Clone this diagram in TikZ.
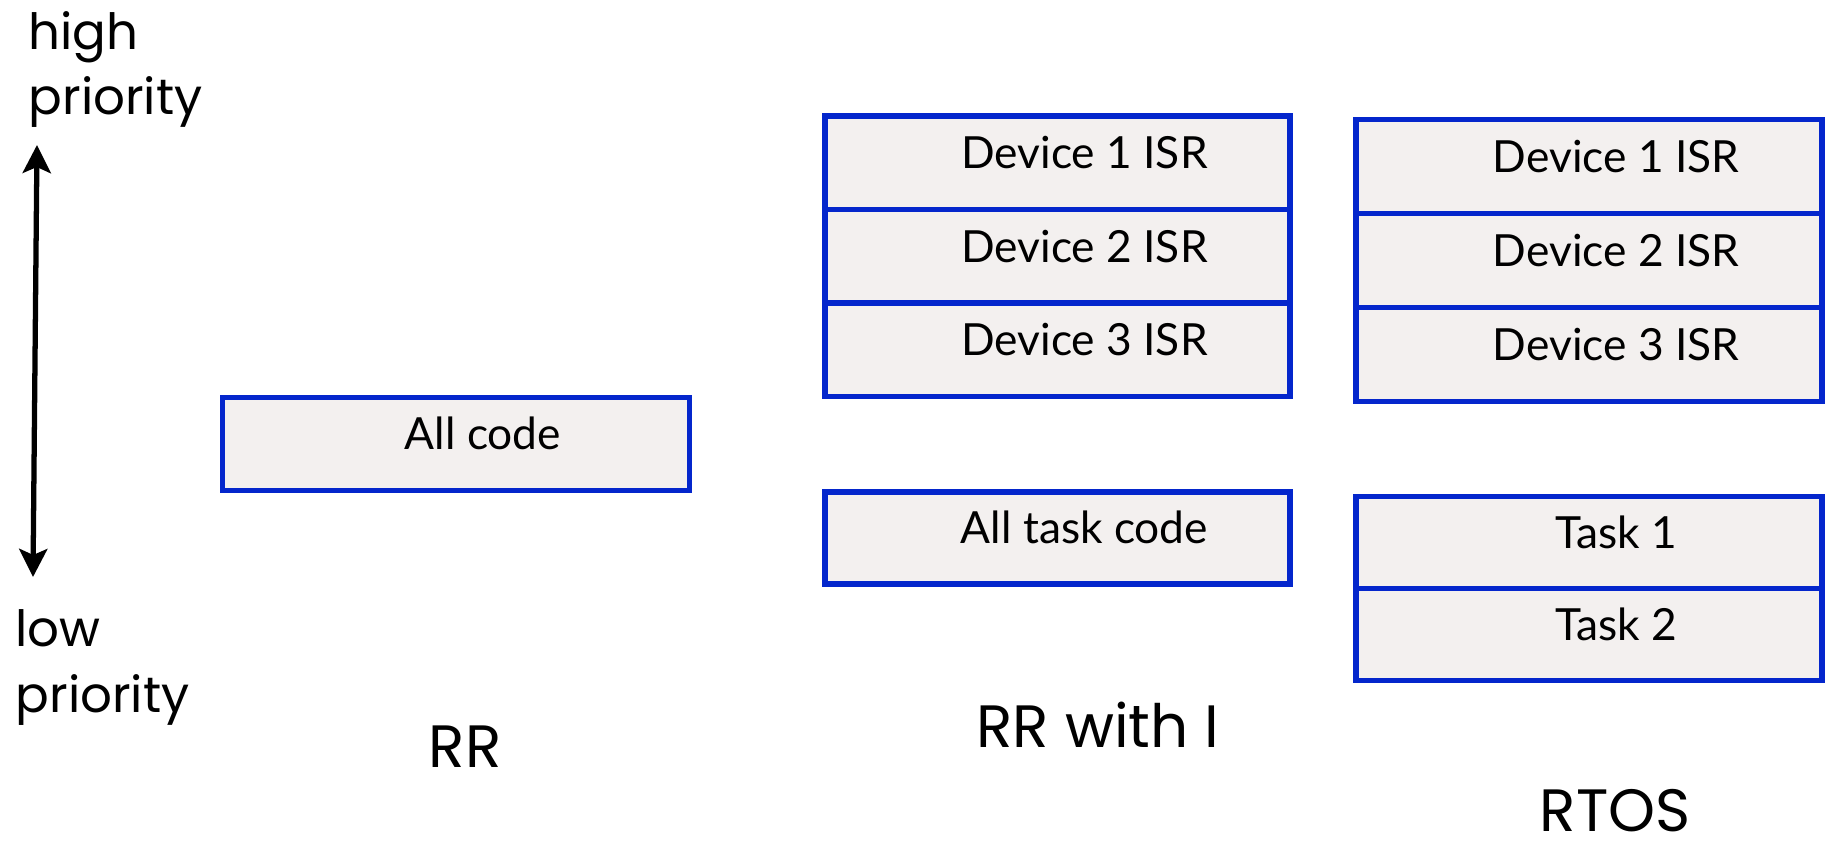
\documentclass[tikz,border=0pt]{standalone}
\usepackage{fontspec}
\setmainfont{Lato}
\newfontfamily\labelfont{Poppins}
\usetikzlibrary{arrows.meta, positioning}
\definecolor{stackblue}{RGB}{4,38,204}
\definecolor{stackfill}{RGB}{243,240,239}

\begin{document}
\begin{tikzpicture}[
    layer/.style={
        rectangle, draw=stackblue, fill=stackfill, line width=1.6pt,
        minimum width=4.66cm, minimum height=0.935cm, outer sep=0pt,
        inner sep=0pt, text height=0.3cm, text depth=0.18cm,
        font=\fontsize{12.6}{15}\selectfont,
        execute at begin node={\hspace*{5.4mm}},
    },
    caption/.style={
        font=\labelfont\fontsize{17}{20}\selectfont,
        inner sep=0pt, anchor=base,
    },
    side/.style={
        font=\labelfont\fontsize{14.2}{18.5}\selectfont,
        inner sep=0pt, anchor=base west, align=left,
    },
]
\useasboundingbox (0,0) rectangle (18.25,8.43);

% --- Priority axis ---
\node[side] (high) at (0.28, 7.28) {high\\priority};
\node[side] (low) at (0.15, 1.31) {low\\priority};
\coordinate (top) at (0.37, 6.98);
\coordinate (bottom) at (0.33, 2.66);
\draw[{Stealth[length=0.28cm, width=0.28cm, inset=0.06cm]}-{Stealth[length=0.28cm, width=0.28cm, inset=0.06cm]},
    line width=1.5pt] (top) -- (bottom);

% --- RR ---
\node[layer, minimum width=4.67cm, minimum height=0.93cm] (allcode) at (4.56, 3.99) {All code};
\node[caption] (rr) at (4.65, 0.76) {RR};

% --- RR with I ---
\node[layer, minimum width=4.65cm] (isr1) at (10.575, 6.8025) {Device 1 ISR};
\node[layer, minimum width=4.65cm, below=0pt of isr1] (isr2) {Device 2 ISR};
\node[layer, minimum width=4.65cm, below=0pt of isr2] (isr3) {Device 3 ISR};
\node[layer, minimum width=4.65cm, minimum height=0.92cm] (alltask) at (10.575, 3.05) {All task code};
\node[caption] (rri) at (10.98, 0.96) {RR with I};

% --- RTOS ---
\node[layer, minimum height=0.94cm] (risr1) at (15.89, 6.765) {Device 1 ISR};
\node[layer, minimum height=0.94cm, below=0pt of risr1] (risr2) {Device 2 ISR};
\node[layer, minimum height=0.94cm, below=0pt of risr2] (risr3) {Device 3 ISR};
\node[layer, minimum height=0.92cm] (task1) at (15.89, 3.005) {Task 1};
\node[layer, minimum height=0.92cm, below=0pt of task1] (task2) {Task 2};
\node[caption] (rtos) at (16.15, 0.12) {RTOS};

\end{tikzpicture}
\end{document}
